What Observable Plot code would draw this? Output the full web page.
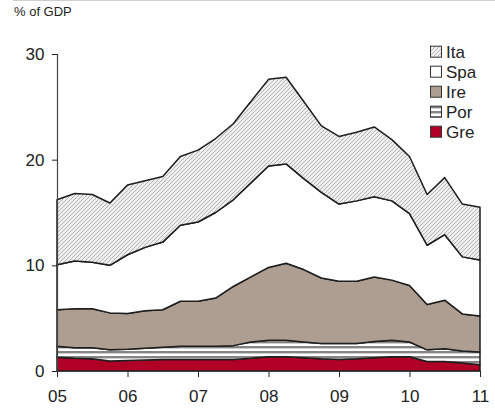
<!DOCTYPE html>
<html>
<head>
<meta charset="utf-8">
<script src="https://cdn.jsdelivr.net/npm/d3@7"></script>
<script src="https://cdn.jsdelivr.net/npm/@observablehq/plot@0.6"></script>
<style>
  html, body { margin: 0; padding: 0; background: #fff; }
  #wrap { position: relative; width: 495px; height: 409px; overflow: hidden; font-family: "Liberation Sans", Arial, sans-serif; }
  #topline { position: absolute; left: 13px; right: 0; top: 0; height: 1px; background: #cfcfcf; }
  #sub { height: 26px; box-sizing: border-box; padding: 5px 0 0 14px; font-size: 13px; color: #222; line-height: 14px; }
</style>
</head>
<body>
<div id="wrap">
  <div id="topline"></div>
  <div id="sub">% of GDP</div>
  <div id="chart"></div>
</div>
<script>
// Quarterly observations, 2005Q1 .. 2011Q1
const quarters = [2005, 2005.25, 2005.5, 2005.75, 2006, 2006.25, 2006.5, 2006.75,
                  2007, 2007.25, 2007.5, 2007.75, 2008, 2008.25, 2008.5, 2008.75,
                  2009, 2009.25, 2009.5, 2009.75, 2010, 2010.25, 2010.5, 2010.75, 2011];
const seriesNames = ["Gre", "Por", "Ire", "Spa", "Ita"]; // bottom to top
const greVals = [1.3, 1.2, 1.15, 0.95, 1.0, 1.05, 1.1, 1.1, 1.1, 1.1, 1.1, 1.2, 1.35,
                 1.35, 1.25, 1.15, 1.1, 1.15, 1.25, 1.35, 1.35, 0.9, 0.9, 0.75, 0.6];
const porVals = [1.05, 1.0, 1.05, 1.05, 1.05, 1.1, 1.15, 1.25, 1.25, 1.25, 1.3, 1.55, 1.55,
                 1.55, 1.5, 1.45, 1.5, 1.45, 1.55, 1.55, 1.4, 1.1, 1.2, 1.15, 1.2];
const ireVals = [3.45, 3.7, 3.7, 3.5, 3.4, 3.55, 3.55, 4.25, 4.25, 4.55, 5.6, 6.15, 6.9,
                 7.3, 6.85, 6.2, 5.9, 5.9, 6.1, 5.7, 5.35, 4.3, 4.6, 3.5, 3.4];
const spaVals = [4.25, 4.5, 4.4, 4.5, 5.55, 6.0, 6.4, 7.2, 7.5, 8.1, 8.2, 8.9, 9.6,
                 9.4, 8.6, 8.1, 7.3, 7.6, 7.6, 7.5, 6.8, 5.6, 6.2, 5.4, 5.3];
const itaVals = [6.15, 6.4, 6.4, 5.9, 6.6, 6.3, 6.2, 6.5, 6.8, 7.0, 7.2, 7.7, 8.2,
                 8.2, 7.3, 6.3, 6.4, 6.5, 6.6, 5.8, 5.4, 4.8, 5.4, 5.0, 5.0];
const yTicks = [0, 10, 20, 30];
const xTickYears = [2005, 2006, 2007, 2008, 2009, 2010, 2011];
const xTickLabels = ["05", "06", "07", "08", "09", "10", "11"];
const legendOrder = ["Ita", "Spa", "Ire", "Por", "Gre"];

const valuesBySeries = {Gre: greVals, Por: porVals, Ire: ireVals, Spa: spaVals, Ita: itaVals};
const fills = {Gre: "#b10026", Por: "url(#porStripe)", Ire: "#ae9e91", Spa: "#ffffff", Ita: "url(#itaHatch)"};

const rows = seriesNames.flatMap(s => quarters.map((q, i) => ({series: s, q, v: valuesBySeries[s][i]})));

const font = "'Liberation Sans', Arial, sans-serif";

const svg = Plot.plot({
  width: 495,
  height: 383,
  marginTop: 28,
  marginBottom: 38,
  marginLeft: 57,
  marginRight: 15,
  style: {fontFamily: font, fontSize: "17px", color: "#222", background: "transparent", overflow: "visible"},
  x: {domain: [2005, 2011], ticks: xTickYears, tickFormat: d => xTickLabels[xTickYears.indexOf(d)],
      tickSize: 6, tickPadding: 12, label: null},
  y: {domain: [0, 30], ticks: yTicks, tickSize: 5, tickPadding: 8, label: null},
  color: {domain: seriesNames, range: seriesNames.map(s => fills[s])},
  marks: [
    Plot.areaY(rows, Plot.stackY({x: "q", y: "v", z: "series", fill: "series", order: seriesNames,
      stroke: "#1e1e1e", strokeWidth: 1.5, strokeLinejoin: "round"})),
    Plot.ruleX([2005], {stroke: "#444", strokeWidth: 1.2}),
    Plot.ruleY([0], {stroke: "#444", strokeWidth: 1.2})
  ]
});

// Pattern definitions
const defs = d3.select(svg).insert("defs", ":first-child");
const ita = defs.append("pattern").attr("id", "itaHatch").attr("patternUnits", "userSpaceOnUse")
  .attr("width", 4).attr("height", 4);
ita.append("rect").attr("width", 4).attr("height", 4).attr("fill", "#efefef");
ita.append("path").attr("d", "M-1,1 l2,-2 M0,4 l4,-4 M3,5 l2,-2").attr("stroke", "#b2b2b2").attr("stroke-width", 1);
const por = defs.append("pattern").attr("id", "porStripe").attr("patternUnits", "userSpaceOnUse")
  .attr("width", 5).attr("height", 5);
por.append("rect").attr("width", 5).attr("height", 5).attr("fill", "#ffffff");
por.append("rect").attr("width", 5).attr("height", 2.4).attr("fill", "#858585");

// Legend
const lg = d3.select(svg).append("g").attr("font-family", font).attr("font-size", 17)
  .attr("fill", "#222").attr("text-anchor", "start");
legendOrder.forEach((s, i) => {
  const cy = 25.7 + i * 20;
  lg.append("rect").attr("x", 430.5).attr("y", cy - 5.5).attr("width", 11).attr("height", 11)
    .attr("fill", fills[s]).attr("stroke", "#333").attr("stroke-width", 1);
  lg.append("text").attr("x", 446).attr("y", cy).attr("dy", "0.36em").attr("text-anchor", "start").text(s);
});

document.getElementById("chart").appendChild(svg);
</script>
</body>
</html>
